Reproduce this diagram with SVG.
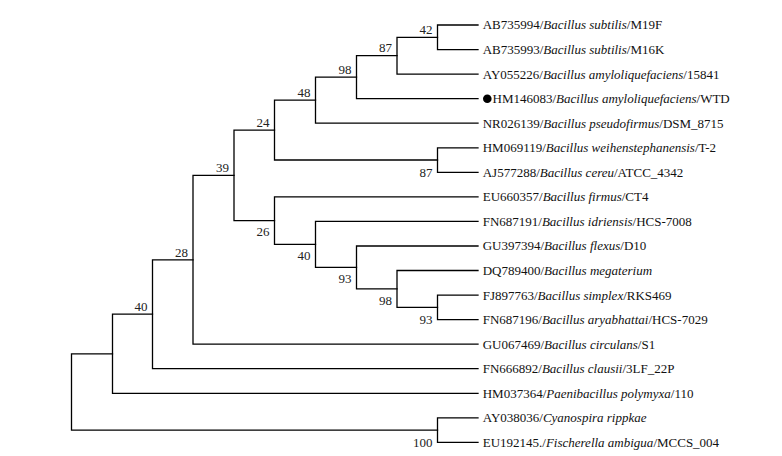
<svg xmlns="http://www.w3.org/2000/svg" width="782" height="456" viewBox="0 0 782 456">
<style>
.br{fill:none;stroke:#000;stroke-width:1.3;stroke-linecap:square}
.lf{font-family:"Liberation Serif","Times New Roman",serif;font-size:13px;fill:#111}
.bs{font-family:"Liberation Serif","Times New Roman",serif;font-size:13px;fill:#222;text-anchor:end}
.it{font-style:italic}
</style>
<rect width="782" height="456" fill="#fff"/>
<g id="connectors">
<path class="br" d="M478 25 H437.5 V49.6 H478"/>
<path class="br" d="M437.5 37.3 H397 V74.1 H478"/>
<path class="br" d="M397 55.7 H356.5 V98.7 H478"/>
<path class="br" d="M356.5 77.2 H315.5 V123.2 H478"/>
<path class="br" d="M478 147.8 H437.5 V172.3 H478"/>
<path class="br" d="M315.5 100.2 H274.5 V160 H437.5"/>
<path class="br" d="M478 295.1 H437.5 V319.6 H478"/>
<path class="br" d="M478 270.5 H397 V307.3 H437.5"/>
<path class="br" d="M478 246 H356.5 V288.9 H397"/>
<path class="br" d="M478 221.4 H315.5 V267.4 H356.5"/>
<path class="br" d="M478 196.9 H274.5 V244.4 H315.5"/>
<path class="br" d="M274.5 130.1 H234 V220.6 H274.5"/>
<path class="br" d="M234 175.4 H193 V344.2 H478"/>
<path class="br" d="M193 259.8 H152.5 V368.7 H478"/>
<path class="br" d="M152.5 314.2 H112.5 V393.3 H478"/>
<path class="br" d="M478 417.8 H437.5 V442.4 H478"/>
<path class="br" d="M112.5 353.8 H71.5 V430.1 H437.5"/>
</g>
<g id="bootstrap">
<text class="bs" x="432.5" y="34">42</text>
<text class="bs" x="392" y="52.4">87</text>
<text class="bs" x="351.5" y="73.9">98</text>
<text class="bs" x="310.5" y="96.9">48</text>
<text class="bs" x="269.5" y="126.8">24</text>
<text class="bs" x="229" y="172.1">39</text>
<text class="bs" x="188" y="256.5">28</text>
<text class="bs" x="147.5" y="310.9">40</text>
<text class="bs" x="269.5" y="236">26</text>
<text class="bs" x="310.5" y="259.6">40</text>
<text class="bs" x="351.5" y="282.6">93</text>
<text class="bs" x="392" y="305">98</text>
<text class="bs" x="432.5" y="323.9">93</text>
<text class="bs" x="432.5" y="176.6">87</text>
<text class="bs" x="432.5" y="446.6">100</text>
</g>
<g id="leaf1"><text class="lf" x="482.7" y="29.4">AB735994/<tspan class="it">Bacillus subtilis</tspan>/M19F</text></g>
<g id="leaf2"><text class="lf" x="482.7" y="54">AB735993/<tspan class="it">Bacillus subtilis</tspan>/M16K</text></g>
<g id="leaf3"><text class="lf" x="482.7" y="78.5">AY055226/<tspan class="it">Bacillus amyloliquefaciens</tspan>/15841</text></g>
<g id="leaf4"><circle cx="487.3" cy="98.7" r="4.3" fill="#000"/><text class="lf" x="492.5" y="103.1">HM146083/<tspan class="it">Bacillus amyloliquefaciens</tspan>/WTD</text></g>
<g id="leaf5"><text class="lf" x="482.7" y="127.6">NR026139/<tspan class="it">Bacillus pseudofirmus</tspan>/DSM_8715</text></g>
<g id="leaf6"><text class="lf" x="482.7" y="152.2">HM069119/<tspan class="it">Bacillus weihenstephanensis</tspan>/T-2</text></g>
<g id="leaf7"><text class="lf" x="482.7" y="176.7">AJ577288/<tspan class="it">Bacillus cereu</tspan>/ATCC_4342</text></g>
<g id="leaf8"><text class="lf" x="482.7" y="201.3">EU660357/<tspan class="it">Bacillus firmus</tspan>/CT4</text></g>
<g id="leaf9"><text class="lf" x="482.7" y="225.8">FN687191/<tspan class="it">Bacillus idriensis</tspan>/HCS-7008</text></g>
<g id="leaf10"><text class="lf" x="482.7" y="250.4">GU397394/<tspan class="it">Bacillus flexus</tspan>/D10</text></g>
<g id="leaf11"><text class="lf" x="482.7" y="274.9">DQ789400/<tspan class="it">Bacillus megaterium</tspan></text></g>
<g id="leaf12"><text class="lf" x="482.7" y="299.5">FJ897763/<tspan class="it">Bacillus simplex</tspan>/RKS469</text></g>
<g id="leaf13"><text class="lf" x="482.7" y="324">FN687196/<tspan class="it">Bacillus aryabhattai</tspan>/HCS-7029</text></g>
<g id="leaf14"><text class="lf" x="482.7" y="348.6">GU067469/<tspan class="it">Bacillus circulans</tspan>/S1</text></g>
<g id="leaf15"><text class="lf" x="482.7" y="373.1">FN666892/<tspan class="it">Bacillus clausii</tspan>/3LF_22P</text></g>
<g id="leaf16"><text class="lf" x="482.7" y="397.7">HM037364/<tspan class="it">Paenibacillus polymyxa</tspan>/110</text></g>
<g id="leaf17"><text class="lf" x="482.7" y="422.2">AY038036/<tspan class="it">Cyanospira rippkae</tspan></text></g>
<g id="leaf18"><text class="lf" x="482.7" y="446.8">EU192145./<tspan class="it">Fischerella ambigua</tspan>/MCCS_004</text></g>
</svg>
